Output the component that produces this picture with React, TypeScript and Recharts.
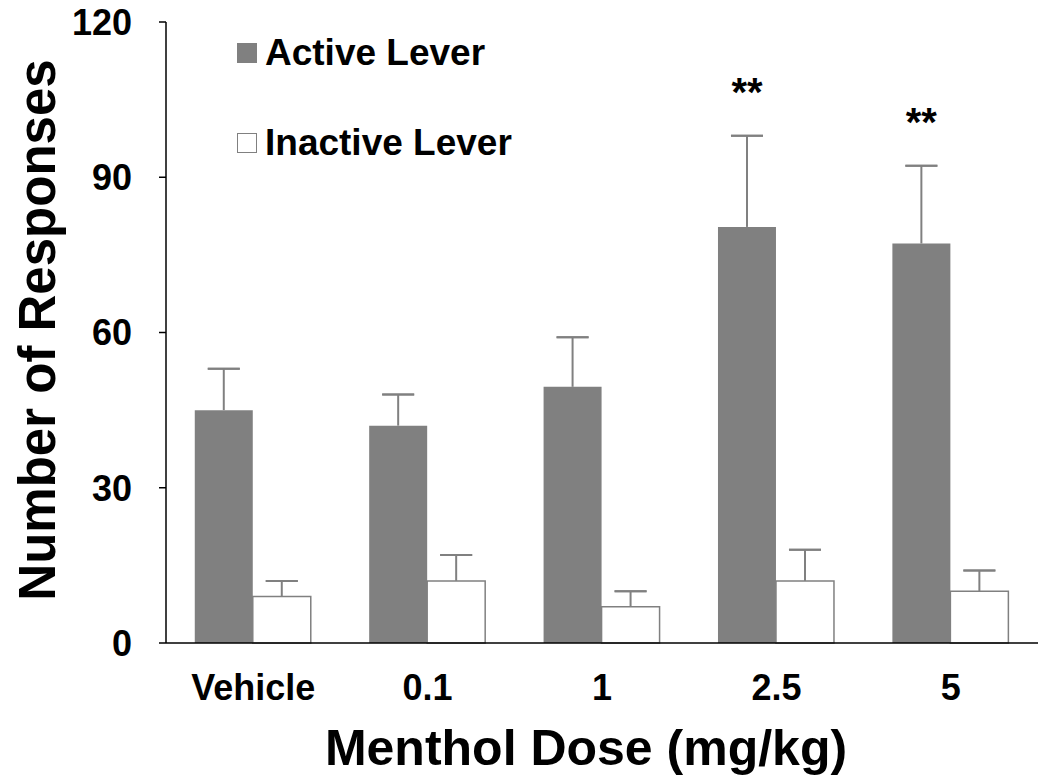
import React from 'react';
import { BarChart, Bar, XAxis, YAxis, ErrorBar, Legend, LabelList, Label } from 'recharts';

const doses = ['Vehicle', '0.1', '1', '2.5', '5'];
const activeMeans = [45, 42, 49.5, 80.4, 77.2];
const activeSEM = [8, 6, 9.6, 17.6, 15];
const inactiveMeans = [9, 12, 7, 12, 10];
const inactiveSEM = [3, 5, 3, 6, 4];
const significance = ['', '', '', '**', '**'];
const yTicks = [0, 30, 60, 90, 120];
const seriesNames = ['Active Lever', 'Inactive Lever'];
const xTitle = 'Menthol Dose (mg/kg)';
const yTitle = 'Number of Responses';

const FONT = '"Liberation Sans", Arial, Helvetica, sans-serif';
const GRAY = '#808080';

// errLine: stem from the bar top upwards (no caps); errCap: zero-length range at the top (cap only)
const data = doses.map((d, i) => ({
  dose: d,
  active: activeMeans[i],
  activeErrLine: [0, activeSEM[i]],
  activeErrCap: [-activeSEM[i], activeSEM[i]],
  inactive: inactiveMeans[i],
  inactiveErrLine: [0, inactiveSEM[i]],
  inactiveErrCap: [-inactiveSEM[i], inactiveSEM[i]],
  sig: significance[i],
}));

const renderStars = (props: any) => {
  const vb = props.viewBox || {};
  const x = props.x ?? vb.x;
  const y = props.y ?? vb.y;
  const w = props.width ?? vb.width;
  const h = props.height ?? vb.height;
  const i = props.index;
  if (!props.value || i === undefined) return null;
  const pxPerUnit = h / activeMeans[i];
  const errTop = y - activeSEM[i] * pxPerUnit;
  return (
    <text
      x={x + w / 2}
      y={errTop - 30}
      textAnchor="middle"
      fontFamily={FONT}
      fontWeight="bold"
      fontSize={40}
      fill="#000"
    >
      {props.value}
    </text>
  );
};

const renderLegend = () => (
  <div style={{ fontFamily: FONT, fontWeight: 'bold', fontSize: 37, color: '#000' }}>
    {seriesNames.map((name, i) => (
      <div
        key={name}
        style={{
          display: 'flex',
          alignItems: 'center',
          height: 40,
          lineHeight: '40px',
          marginTop: i === 0 ? 0 : 50,
          whiteSpace: 'nowrap',
        }}
      >
        <span
          style={{
            display: 'inline-block',
            width: 20,
            height: 20,
            boxSizing: 'border-box',
            background: i === 0 ? GRAY : '#fff',
            border: i === 0 ? 'none' : `1.5px solid ${GRAY}`,
            marginRight: 8,
          }}
        />
        <span>{name}</span>
      </div>
    ))}
  </div>
);

export default function App() {
  return (
    <div style={{ position: 'absolute', left: 0, top: 0, width: 1050, height: 780, background: '#fff' }}>
      <BarChart
        width={1050}
        height={780}
        data={data}
        margin={{ top: 22, right: 12, bottom: 0, left: 0 }}
        barCategoryGap="16.5%"
        barGap={0}
      >
        <XAxis
          dataKey="dose"
          height={137}
          interval={0}
          axisLine={{ stroke: '#000', strokeWidth: 1.5 }}
          tickLine={false}
          tickSize={0}
          tickMargin={31}
          tick={{ fill: '#000', fontSize: 36, fontWeight: 'bold', fontFamily: FONT }}
        >
          <Label
            content={() => (
              <text x={586} y={765} textAnchor="middle" fontFamily={FONT} fontWeight="bold" fontSize={50} fill="#000">
                {xTitle}
              </text>
            )}
          />
        </XAxis>
        <YAxis
          width={166}
          domain={[0, 120]}
          ticks={yTicks}
          interval={0}
          axisLine={{ stroke: '#000', strokeWidth: 1.5 }}
          tickLine={{ stroke: '#000', strokeWidth: 1.5 }}
          tickSize={7}
          tickMargin={27}
          tick={{ fill: '#000', fontSize: 36, fontWeight: 'bold', fontFamily: FONT }}
        >
          <Label
            content={() => (
              <text
                transform="translate(55,330) rotate(-90)"
                textAnchor="middle"
                fontFamily={FONT}
                fontWeight="bold"
                fontSize={51}
                fill="#000"
              >
                {yTitle}
              </text>
            )}
          />
        </YAxis>
        <Legend
          content={renderLegend}
          layout="horizontal"
          verticalAlign="middle"
          align="center"
          wrapperStyle={{ position: 'absolute', left: 237, top: 33, width: 340 }}
        />
        <Bar dataKey="active" name={seriesNames[0]} fill={GRAY} isAnimationActive={false}>
          <ErrorBar dataKey="activeErrLine" direction="y" width={0} strokeWidth={2} stroke={GRAY} isAnimationActive={false} />
          <ErrorBar dataKey="activeErrCap" direction="y" width={16} strokeWidth={2} stroke={GRAY} isAnimationActive={false} />
          <LabelList dataKey="sig" content={renderStars} />
        </Bar>
        <Bar
          dataKey="inactive"
          name={seriesNames[1]}
          fill="#fff"
          stroke={GRAY}
          strokeWidth={1.5}
          isAnimationActive={false}
        >
          <ErrorBar dataKey="inactiveErrLine" direction="y" width={0} strokeWidth={2} stroke={GRAY} isAnimationActive={false} />
          <ErrorBar dataKey="inactiveErrCap" direction="y" width={16} strokeWidth={2} stroke={GRAY} isAnimationActive={false} />
        </Bar>
      </BarChart>
    </div>
  );
}
